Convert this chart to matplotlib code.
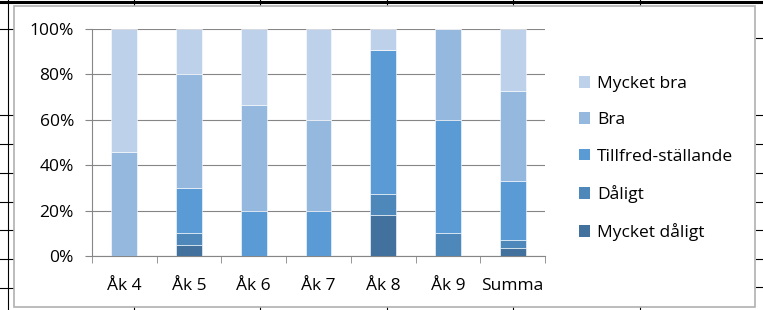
import matplotlib.pyplot as plt
from matplotlib.patches import Patch, Rectangle
from matplotlib.lines import Line2D
import numpy as np

plt.rcParams['font.family'] = ['Open Sans', 'DejaVu Sans']

categories = ['Åk 4', 'Åk 5', 'Åk 6', 'Åk 7', 'Åk 8', 'Åk 9', 'Summa']
series = ['Mycket dåligt', 'Dåligt', 'Tillfred-ställande', 'Bra', 'Mycket bra']
mycket_daligt = [0, 5, 0, 0, 18.2, 0, 3.4]
daligt = [0, 5, 0, 0, 9.1, 10, 3.6]
tillfred = [0, 20, 20, 20, 63.6, 50, 26.2]
bra = [46, 50, 46.7, 40, 0, 40, 39.3]
mycket_bra = [54, 20, 33.3, 40, 9.1, 0, 27.5]
colors = ['#41719C', '#4E88BB', '#5B9BD5', '#95B8DF', '#BDD1EA']

W, H = 763, 310
fig = plt.figure(figsize=(W / 100, H / 100), dpi=100)

# spreadsheet lines behind the chart
def hline(x0, x1, y, lw=1.0):
    fig.add_artist(Line2D([x0 / W, x1 / W], [1 - y / H, 1 - y / H], color='black', lw=lw,
                          transform=fig.transFigure, zorder=-3))

def vline(x, y0, y1, lw=1.0):
    fig.add_artist(Line2D([x / W, x / W], [1 - y0 / H, 1 - y1 / H], color='black', lw=lw,
                          transform=fig.transFigure, zorder=-3))

hline(0, W, 1.5, lw=2.2)
vline(8, 0, H, lw=0.8)
for y in [29, 115, 144, 173, 202, 230, 259, 288]:
    hline(0, 13, y, lw=0.8)
for y in [38, 115, 144, 173, 202, 230, 259, 287]:
    hline(756, W, y, lw=0.8)
for x in [134, 260, 387, 513, 640]:
    vline(x, 0, 6, lw=0.8)
    vline(x, 307, H, lw=0.8)

# chart area box
fig.add_artist(Rectangle((13.5 / W, 1 - 307 / H), (755 - 13.5) / W, (307 - 6) / H,
                         transform=fig.transFigure, facecolor='white', edgecolor='#B0B0B0',
                         lw=1.2, zorder=-2))

ax = fig.add_axes([92 / W, (H - 256) / H, (545 - 92) / W, (256 - 29) / H])
x = np.arange(len(categories))
data = [mycket_daligt, daligt, tillfred, bra, mycket_bra]
bottom = np.zeros(len(categories))
for name, vals, c in zip(series, data, colors):
    ax.bar(x, vals, width=0.4, bottom=bottom, color=c, edgecolor='white', linewidth=0.4, label=name, zorder=3)
    bottom += np.array(vals)

ax.set_xlim(-0.5, len(categories) - 0.5)
ax.set_ylim(0, 100)
ax.set_yticks([0, 20, 40, 60, 80, 100])
ax.set_yticklabels(['0%', '20%', '40%', '60%', '80%', '100%'])
ax.set_xticks(x)
ax.set_xticklabels(categories)
ax.set_xticks(np.arange(-0.5, len(categories)), minor=True)
ax.tick_params(axis='x', which='major', length=0, pad=16, labelsize=12.5)
ax.tick_params(axis='x', which='minor', length=5, color='#868686', direction='out')
ax.tick_params(axis='y', length=5, color='#868686', labelsize=12.5, pad=8)
ax.yaxis.grid(True, color='#868686', lw=0.8, zorder=0)
for s in ['top', 'right']:
    ax.spines[s].set_visible(False)
ax.spines['left'].set_color('#868686')
ax.spines['bottom'].set_color('#868686')
ax.set_facecolor('none')

handles = [Patch(facecolor=c, label=n) for n, c in zip(series, colors)][::-1]
fig.legend(handles=handles, loc='upper left', bbox_to_anchor=(572 / W, 1 - 69 / H),
           frameon=False, fontsize=12.5, handlelength=0.65, handleheight=0.65,
           handletextpad=0.4, labelspacing=1.17, borderaxespad=0)

fig.savefig('out.png', dpi=100)
